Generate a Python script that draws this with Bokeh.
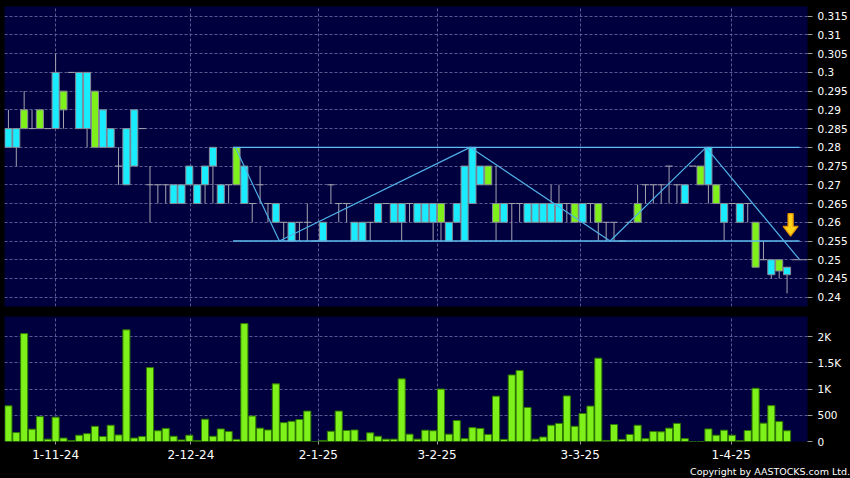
from bokeh.plotting import figure
from bokeh.layouts import column
from bokeh.models import (ColumnDataSource, FixedTicker, CustomJSTickFormatter,
                          Range1d, Div)
from bokeh.embed import file_html
from bokeh.resources import INLINE
from bokeh.core.templates import get_env

# ---------------- data ----------------
opens = [0.28, 0.28, 0.29, 0.285, 0.29, 0.285, 0.285, 0.295, 0.30, 0.285,
         0.285, 0.295, 0.28, 0.28, 0.275, 0.27, 0.275, 0.285, 0.27, 0.27,
         0.27, 0.265, 0.265, 0.27, 0.265, 0.27, 0.275, 0.265, 0.27, 0.28,
         0.265, 0.265, 0.27, 0.265, 0.26, 0.26, 0.255, 0.26, 0.26, 0.255,
         0.255, 0.27, 0.265, 0.265, 0.255, 0.255, 0.26, 0.26, 0.265, 0.26,
         0.26, 0.265, 0.26, 0.26, 0.26, 0.265, 0.255, 0.26, 0.255, 0.265,
         0.27, 0.275, 0.265, 0.26, 0.265, 0.265, 0.26, 0.26, 0.26, 0.26,
         0.26, 0.265, 0.265, 0.26, 0.265, 0.265, 0.26, 0.26, 0.255, 0.26,
         0.265, 0.27, 0.27, 0.27, 0.275, 0.27, 0.265, 0.275, 0.275, 0.27,
         0.27, 0.26, 0.265, 0.26, 0.265, 0.26, 0.25, 0.246, 0.25, 0.246]
highs = [0.29, 0.285, 0.295, 0.29, 0.29, 0.285, 0.305, 0.295, 0.30, 0.30,
         0.30, 0.295, 0.29, 0.285, 0.28, 0.285, 0.29, 0.285, 0.275, 0.27,
         0.27, 0.27, 0.27, 0.275, 0.27, 0.275, 0.28, 0.27, 0.27, 0.28,
         0.275, 0.265, 0.275, 0.265, 0.265, 0.26, 0.26, 0.26, 0.265, 0.255,
         0.26, 0.27, 0.265, 0.265, 0.26, 0.26, 0.26, 0.265, 0.265, 0.265,
         0.265, 0.265, 0.265, 0.265, 0.265, 0.265, 0.26, 0.265, 0.275, 0.28,
         0.275, 0.275, 0.275, 0.265, 0.265, 0.265, 0.265, 0.265, 0.265, 0.27,
         0.27, 0.265, 0.265, 0.265, 0.265, 0.265, 0.26, 0.26, 0.255, 0.26,
         0.27, 0.27, 0.27, 0.27, 0.275, 0.27, 0.27, 0.275, 0.275, 0.28,
         0.27, 0.265, 0.265, 0.265, 0.265, 0.26, 0.255, 0.25, 0.25, 0.248]
lows = [0.28, 0.275, 0.285, 0.285, 0.285, 0.285, 0.285, 0.285, 0.30, 0.285,
        0.28, 0.28, 0.28, 0.28, 0.27, 0.27, 0.275, 0.285, 0.26, 0.265,
        0.265, 0.265, 0.265, 0.27, 0.265, 0.265, 0.265, 0.265, 0.265, 0.27,
        0.265, 0.26, 0.265, 0.26, 0.26, 0.255, 0.255, 0.255, 0.255, 0.255,
        0.255, 0.265, 0.26, 0.26, 0.255, 0.255, 0.255, 0.26, 0.265, 0.26,
        0.255, 0.26, 0.26, 0.26, 0.255, 0.255, 0.255, 0.26, 0.255, 0.265,
        0.27, 0.27, 0.255, 0.26, 0.255, 0.26, 0.26, 0.26, 0.26, 0.26,
        0.26, 0.26, 0.26, 0.26, 0.26, 0.255, 0.255, 0.255, 0.255, 0.26,
        0.26, 0.265, 0.265, 0.265, 0.265, 0.265, 0.265, 0.275, 0.27, 0.265,
        0.265, 0.255, 0.265, 0.26, 0.26, 0.248, 0.25, 0.245, 0.245, 0.241]
closes = [0.285, 0.285, 0.285, 0.285, 0.285, 0.285, 0.30, 0.29, 0.30, 0.30,
          0.30, 0.28, 0.29, 0.285, 0.275, 0.285, 0.29, 0.285, 0.27, 0.27,
          0.27, 0.27, 0.27, 0.275, 0.27, 0.275, 0.28, 0.27, 0.27, 0.27,
          0.275, 0.265, 0.27, 0.265, 0.265, 0.26, 0.26, 0.26, 0.26, 0.255,
          0.26, 0.27, 0.265, 0.265, 0.26, 0.26, 0.26, 0.265, 0.265, 0.265,
          0.265, 0.265, 0.265, 0.265, 0.265, 0.26, 0.26, 0.265, 0.275, 0.28,
          0.275, 0.27, 0.26, 0.265, 0.265, 0.265, 0.265, 0.265, 0.265, 0.265,
          0.265, 0.265, 0.26, 0.265, 0.265, 0.26, 0.26, 0.26, 0.255, 0.26,
          0.26, 0.27, 0.27, 0.27, 0.275, 0.27, 0.27, 0.275, 0.27, 0.28,
          0.265, 0.265, 0.265, 0.265, 0.265, 0.248, 0.25, 0.25, 0.247, 0.248]
volumes = [680, 170, 2060, 235, 475, 45, 465, 65, 20, 120,
           150, 290, 95, 310, 125, 2130, 65, 95, 1410, 205,
           250, 100, 30, 120, 20, 425, 100, 240, 190, 40,
           2250, 485, 255, 220, 1100, 360, 385, 420, 580, 0,
           20, 195, 580, 210, 220, 20, 165, 100, 45, 45,
           1195, 140, 45, 215, 205, 1000, 140, 400, 55, 265,
           250, 135, 865, 40, 1270, 1355, 650, 45, 85, 310,
           345, 870, 290, 535, 675, 1590, 20, 325, 40, 135,
           310, 55, 190, 185, 255, 345, 55, 0, 0, 240,
           120, 215, 120, 15, 210, 1015, 350, 685, 380, 205]

date_labels = ["1-11-24", "2-12-24", "2-1-25", "3-2-25", "3-3-25", "1-4-25"]
date_pos = [6.0, 23.2, 39.4, 54.5, 72.7, 91.9]
price_ticks = [0.24, 0.245, 0.25, 0.255, 0.26, 0.265, 0.27, 0.275, 0.28,
               0.285, 0.29, 0.295, 0.30, 0.305, 0.31, 0.315]
volume_ticks = [0, 500, 1000, 1500, 2000]

# annotation lines (channel + zigzag) and marker
channel_x = [28.55, 100.6]
resistance = 0.28
support = 0.255
zigzag_x = [28.85, 34.45, 58.7, 76.5, 88.7, 100.6]
zigzag_y = [0.28, 0.255, 0.28, 0.255, 0.28, 0.25]
last_x = [99.6, 101.6]
last_y = [0.25, 0.25]
arrow_x = 99.45
arrow_top, arrow_neck, arrow_tip = 0.2623, 0.2589, 0.2563
copyright_text = "Copyright by AASTOCKS.com Ltd."

# ---------------- styling ----------------
NAVY = "#00003f"
CYAN = "#19ecff"
GREEN = "#7ef01a"
GRID = "#5a5a90"
WICK = "#a4a4b0"
FONT = "DejaVu Sans"
FRAME_W = 803

n = len(opens)
idx = list(range(n))
x_range = Range1d(-0.5, 101.6)

body = {"x": [], "top": [], "bottom": [], "color": []}
doji = {"x0": [], "x1": [], "y": []}
for i in idx:
    o, c = opens[i], closes[i]
    if abs(o - c) < 1e-9:
        doji["x0"].append(i - 0.45)
        doji["x1"].append(i + 0.45)
        doji["y"].append(o)
    else:
        body["x"].append(i)
        body["top"].append(max(o, c))
        body["bottom"].append(min(o, c))
        body["color"].append(CYAN if c > o else GREEN)


def style_grid(p, xt, yt):
    for g in (p.xgrid, p.ygrid):
        g.grid_line_color = GRID
        g.grid_line_dash = "3 2"
        g.grid_line_width = 1
    p.xgrid.ticker = FixedTicker(ticks=xt)
    p.ygrid.ticker = FixedTicker(ticks=yt)


def style_axis(a, size):
    a.axis_line_color = None
    a.major_tick_in = 0
    a.major_tick_line_color = "#9a9a9a"
    a.minor_tick_line_color = None
    a.major_label_text_color = "white"
    a.major_label_text_font = FONT
    a.major_label_text_font_size = size


p1 = figure(frame_width=FRAME_W, frame_height=300,
            x_range=x_range, y_range=Range1d(0.23752, 0.31759),
            output_backend="svg", toolbar_location=None,
            x_axis_location=None, y_axis_location="right",
            background_fill_color=NAVY, border_fill_color="black",
            min_border_left=4, min_border_top=6, min_border_bottom=4,
            min_border_right=0, outline_line_color=None)

p1.segment(x0=idx, y0=lows, x1=idx, y1=highs, line_color=WICK, line_width=1)
p1.vbar(x="x", top="top", bottom="bottom", width=0.9, fill_color="color",
        line_color="#8a8a96", line_width=1, source=ColumnDataSource(body))
p1.segment(x0="x0", y0="y", x1="x1", y1="y", line_color=WICK, line_width=1,
           source=ColumnDataSource(doji))

p1.line(channel_x, [resistance, resistance], line_color="#5cbcf0", line_width=1.4)
p1.line(channel_x, [support, support], line_color="#5cbcf0", line_width=1.4)
p1.line(zigzag_x, zigzag_y, line_color="#4fb0e8", line_width=1.2)
p1.line(last_x, last_y, line_color="#9a9aa8", line_width=1)

ax = [arrow_x - 0.33, arrow_x + 0.33, arrow_x + 0.33, arrow_x + 0.95,
      arrow_x, arrow_x - 0.95, arrow_x - 0.33]
ay = [arrow_top, arrow_top, arrow_neck, arrow_neck, arrow_tip, arrow_neck, arrow_neck]
p1.patch(ax, ay, fill_color="#ffd21a", line_color="#e39000", line_width=1.2)

style_grid(p1, date_pos, price_ticks)
ya = p1.yaxis[0]
ya.ticker = FixedTicker(ticks=price_ticks)
ya.formatter = CustomJSTickFormatter(code="return String(parseFloat(tick.toFixed(3)));")
style_axis(ya, "10.5px")
ya.major_tick_out = 5
ya.major_label_standoff = 5

# ---------------- volume panel ----------------
p2 = figure(frame_width=FRAME_W, frame_height=125,
            x_range=x_range, y_range=Range1d(0, 2385),
            output_backend="svg", toolbar_location=None,
            y_axis_location="right",
            background_fill_color=NAVY, border_fill_color="black",
            min_border_left=4, min_border_top=6, min_border_bottom=0,
            min_border_right=0, outline_line_color=None)

p2.vbar(x=idx, top=volumes, bottom=0, width=0.9, fill_color=GREEN,
        line_color="#2f7a00", line_width=1)

style_grid(p2, date_pos, volume_ticks)
va = p2.yaxis[0]
va.ticker = FixedTicker(ticks=volume_ticks)
va.formatter = CustomJSTickFormatter(
    code="return tick >= 1000 ? String(tick/1000) + 'K' : String(tick);")
style_axis(va, "10.5px")
va.major_tick_out = 5
va.major_label_standoff = 5

xa = p2.xaxis[0]
xa.ticker = FixedTicker(ticks=date_pos)
xa.formatter = CustomJSTickFormatter(
    args=dict(pos=date_pos, labels=date_labels),
    code="""let k = 0, b = 1e9;
for (let j = 0; j < pos.length; j++) { const d = Math.abs(pos[j] - tick); if (d < b) { b = d; k = j; } }
return labels[k];""")
style_axis(xa, "12px")
xa.major_tick_out = 3
xa.major_label_standoff = 5

note = Div(text=copyright_text, width=845, height=13,
           styles={"color": "white", "font-family": FONT, "font-size": "9.5px",
                   "text-align": "right", "line-height": "12px",
                   "background-color": "black"})

layout = column(p1, p2, note, spacing=0, styles={"background-color": "black"})

tmpl = get_env().from_string(
    '{% extends "file.html" %}{% block postamble %}'
    '<style>html, body { background: #000; }</style>{% endblock %}')
html = file_html(layout, INLINE, template=tmpl)
if "background: #000" not in html:
    html = html.replace("<head>", "<head><style>html, body { background: #000; }</style>", 1)
open("out.html", "w").write(html)
